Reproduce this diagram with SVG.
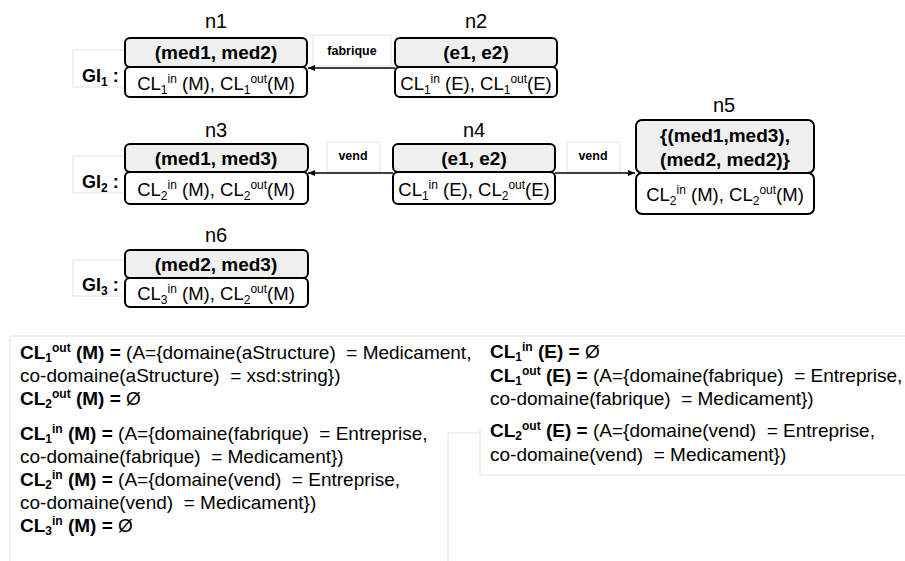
<svg xmlns="http://www.w3.org/2000/svg" width="905" height="561" viewBox="0 0 905 561">
<style>
  text { font-family: "Liberation Sans", Arial, sans-serif; fill: #000; white-space: pre; }
  .nl { font-size: 20px; text-anchor: middle; }
  .hd { font-size: 19px; font-weight: bold; text-anchor: middle; }
  .bd { font-size: 18.5px; text-anchor: middle; }
  .gi { font-size: 18px; font-weight: bold; }
  .el { font-size: 12.5px; font-weight: bold; text-anchor: middle; }
  .sm { font-size: 12px; }
  .tx { font-size: 19px; }
  .b { font-weight: bold; }
  .hdr { fill: #efefef; stroke: #000; stroke-width: 2; }
  .body { fill: #fff; stroke: #000; stroke-width: 2; }
  .faint { fill: none; stroke: #e3e3e3; stroke-width: 1; }
  .lbox { fill: #fff; stroke: #e3e3e3; stroke-width: 1; }
  .edge { stroke: #000; stroke-width: 1.5; fill: none; marker-end: url(#ah); }
</style>
<defs>
  <marker id="ah" markerWidth="8" markerHeight="8" refX="7" refY="4" orient="auto" markerUnits="userSpaceOnUse">
    <path d="M0,1 L7,4 L0,7 Z" fill="#000"/>
  </marker>
</defs>
<rect width="905" height="561" fill="#fff"/>

<!-- GI labels -->
<g id="gi1">
  <rect class="faint" x="73" y="50" width="52" height="37"/>
  <text class="gi" x="82" y="82">GI<tspan class="sm" dy="4">1</tspan><tspan dy="-4"> :</tspan></text>
</g>
<g id="gi2">
  <rect class="faint" x="73" y="156" width="52" height="37"/>
  <text class="gi" x="82" y="188">GI<tspan class="sm" dy="4">2</tspan><tspan dy="-4"> :</tspan></text>
</g>
<g id="gi3">
  <rect class="faint" x="73" y="260" width="52" height="36"/>
  <text class="gi" x="82" y="291">GI<tspan class="sm" dy="4">3</tspan><tspan dy="-4"> :</tspan></text>
</g>

<!-- connectors -->
<g id="edges">
  <rect class="lbox" x="313" y="35" width="78" height="31"/>
  <text class="el" x="352" y="55">fabrique</text>
  <line class="edge" x1="395" y1="68" x2="308" y2="68"/>
  <rect class="lbox" x="327" y="142" width="53" height="30"/>
  <text class="el" x="353" y="160">vend</text>
  <line class="edge" x1="393" y1="173" x2="308" y2="173"/>
  <rect class="lbox" x="567" y="142" width="53" height="30"/>
  <text class="el" x="593" y="160">vend</text>
  <line class="edge" x1="555" y1="173" x2="635" y2="173"/>
</g>

<g id="n1">
  <text class="nl" x="216" y="28">n1</text>
  <rect class="body" x="125" y="67" width="182" height="30" rx="5"/>
  <rect class="hdr" x="125" y="38" width="182" height="29" rx="5"/>
  <text class="hd" x="216" y="59">(med1, med2)</text>
  <text class="bd" x="216" y="90">CL<tspan class="sm" dy="4">1</tspan><tspan class="sm" dy="-11">in</tspan><tspan dy="7"> (M), CL</tspan><tspan class="sm" dy="4">1</tspan><tspan class="sm" dy="-11">out</tspan><tspan dy="7">(M)</tspan></text>
</g>

<g id="n2">
  <text class="nl" x="476" y="28">n2</text>
  <rect class="body" x="395" y="67" width="162" height="30" rx="5"/>
  <rect class="hdr" x="395" y="38" width="162" height="29" rx="5"/>
  <text class="hd" x="476" y="59">(e1, e2)</text>
  <text class="bd" x="476" y="90">CL<tspan class="sm" dy="4">1</tspan><tspan class="sm" dy="-11">in</tspan><tspan dy="7"> (E), CL</tspan><tspan class="sm" dy="4">1</tspan><tspan class="sm" dy="-11">out</tspan><tspan dy="7">(E)</tspan></text>
</g>

<g id="n3">
  <text class="nl" x="216" y="137">n3</text>
  <rect class="body" x="125" y="172" width="183" height="32" rx="5"/>
  <rect class="hdr" x="125" y="144" width="183" height="28" rx="5"/>
  <text class="hd" x="216" y="165">(med1, med3)</text>
  <text class="bd" x="216" y="196">CL<tspan class="sm" dy="4">2</tspan><tspan class="sm" dy="-11">in</tspan><tspan dy="7"> (M), CL</tspan><tspan class="sm" dy="4">2</tspan><tspan class="sm" dy="-11">out</tspan><tspan dy="7">(M)</tspan></text>
</g>

<g id="n4">
  <text class="nl" x="474" y="137">n4</text>
  <rect class="body" x="393" y="172" width="162" height="32" rx="5"/>
  <rect class="hdr" x="393" y="144" width="162" height="28" rx="5"/>
  <text class="hd" x="474" y="165">(e1, e2)</text>
  <text class="bd" x="474" y="196">CL<tspan class="sm" dy="4">1</tspan><tspan class="sm" dy="-11">in</tspan><tspan dy="7"> (E), CL</tspan><tspan class="sm" dy="4">2</tspan><tspan class="sm" dy="-11">out</tspan><tspan dy="7">(E)</tspan></text>
</g>

<g id="n5">
  <text class="nl" x="724" y="112">n5</text>
  <rect class="body" x="636" y="173" width="178" height="41" rx="6"/>
  <rect class="hdr" x="636" y="120" width="178" height="53" rx="6"/>
  <text class="hd" x="725" y="142">{(med1,med3),</text>
  <text class="hd" x="725" y="166">(med2, med2)}</text>
  <text class="bd" x="725" y="201">CL<tspan class="sm" dy="4">2</tspan><tspan class="sm" dy="-11">in</tspan><tspan dy="7"> (M), CL</tspan><tspan class="sm" dy="4">2</tspan><tspan class="sm" dy="-11">out</tspan><tspan dy="7">(M)</tspan></text>
</g>

<g id="n6">
  <text class="nl" x="216" y="242">n6</text>
  <rect class="body" x="125" y="278" width="183" height="29" rx="5"/>
  <rect class="hdr" x="125" y="250" width="183" height="28" rx="5"/>
  <text class="hd" x="216" y="271">(med2, med3)</text>
  <text class="bd" x="216" y="300">CL<tspan class="sm" dy="4">3</tspan><tspan class="sm" dy="-11">in</tspan><tspan dy="7"> (M), CL</tspan><tspan class="sm" dy="4">2</tspan><tspan class="sm" dy="-11">out</tspan><tspan dy="7">(M)</tspan></text>
</g>

<!-- bottom text blocks -->
<g id="defs-left">
  <path class="faint" d="M10,561 V336 H905 M448,561 V433 H480 M480,427 V475 H905"/>
  <text class="tx" x="20" y="359"><tspan class="b">CL<tspan class="sm" dy="3">1</tspan><tspan class="sm" dy="-10">out</tspan><tspan dy="7"> (M) = </tspan></tspan>(A={domaine(aStructure)  = Medicament,</text>
  <text class="tx" x="20" y="382">co-domaine(aStructure)  = xsd:string})</text>
  <text class="tx" x="20" y="405"><tspan class="b">CL<tspan class="sm" dy="3">2</tspan><tspan class="sm" dy="-10">out</tspan><tspan dy="7"> (M) = </tspan></tspan>Ø</text>
  <text class="tx" x="20" y="440"><tspan class="b">CL<tspan class="sm" dy="3">1</tspan><tspan class="sm" dy="-10">in</tspan><tspan dy="7"> (M) = </tspan></tspan>(A={domaine(fabrique)  = Entreprise,</text>
  <text class="tx" x="20" y="463">co-domaine(fabrique)  = Medicament})</text>
  <text class="tx" x="20" y="486"><tspan class="b">CL<tspan class="sm" dy="3">2</tspan><tspan class="sm" dy="-10">in</tspan><tspan dy="7"> (M) = </tspan></tspan>(A={domaine(vend)  = Entreprise,</text>
  <text class="tx" x="20" y="509">co-domaine(vend)  = Medicament})</text>
  <text class="tx" x="20" y="532"><tspan class="b">CL<tspan class="sm" dy="3">3</tspan><tspan class="sm" dy="-10">in</tspan><tspan dy="7"> (M) = </tspan></tspan>Ø</text>
</g>
<g id="defs-right">
  <text class="tx" x="490" y="358"><tspan class="b">CL<tspan class="sm" dy="3">1</tspan><tspan class="sm" dy="-10">in</tspan><tspan dy="7"> (E) = </tspan></tspan>Ø</text>
  <text class="tx" x="490" y="382"><tspan class="b">CL<tspan class="sm" dy="3">1</tspan><tspan class="sm" dy="-10">out</tspan><tspan dy="7"> (E) = </tspan></tspan>(A={domaine(fabrique)  = Entreprise,</text>
  <text class="tx" x="490" y="405">co-domaine(fabrique)  = Medicament})</text>
  <text class="tx" x="490" y="437"><tspan class="b">CL<tspan class="sm" dy="3">2</tspan><tspan class="sm" dy="-10">out</tspan><tspan dy="7"> (E) = </tspan></tspan>(A={domaine(vend)  = Entreprise,</text>
  <text class="tx" x="490" y="461">co-domaine(vend)  = Medicament})</text>
</g>
</svg>
